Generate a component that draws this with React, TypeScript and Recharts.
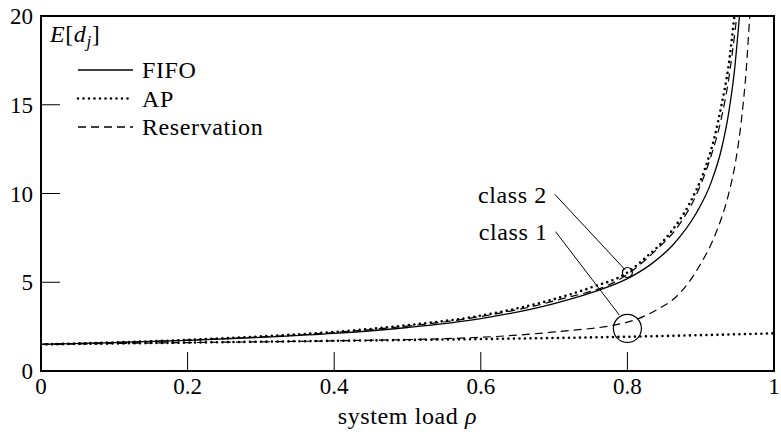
import React from "react";
import {
    LineChart,
    Line,
    XAxis,
    YAxis,
    Legend,
    ReferenceArea,
    ReferenceDot,
    ReferenceLine
} from "recharts";

const FONT = '"Liberation Serif", "Times New Roman", serif';

// axis ticks
const loadTicks = [0, 0.2, 0.4, 0.6, 0.8, 1];
const delayTicks = [0, 5, 10, 15, 20];

// FIFO: both classes share the same mean delay
const fifoRho = [0, 0.1, 0.2, 0.3, 0.4, 0.5, 0.6, 0.7, 0.75, 0.8, 0.83, 0.862, 0.894, 0.914, 0.928, 0.938, 0.946, 0.953, 0.958];
const fifoDelay = [1.5, 1.6, 1.72, 1.9, 2.12, 2.45, 2.95, 3.8, 4.4, 5.2, 5.95, 7.1, 8.9, 10.6, 12.45, 14.5, 16.9, 20.0, 22.0];

// AP, class 2 (top dotted) and class 1 (flat dotted)
const apHighRho = [0, 0.1, 0.2, 0.3, 0.4, 0.5, 0.6, 0.7, 0.75, 0.8, 0.821, 0.858, 0.885, 0.905, 0.919, 0.928, 0.938, 0.946, 0.95];
const apHighDelay = [1.5, 1.61, 1.75, 1.95, 2.2, 2.58, 3.12, 4.05, 4.7, 5.55, 6.25, 7.76, 9.45, 11.3, 13.2, 14.9, 17.2, 20.0, 21.5];
const apLowRho = [0, 0.2, 0.4, 0.6, 0.8, 1];
const apLowDelay = [1.5, 1.6, 1.7, 1.8, 1.93, 2.12];

// Reservation, class 2 and class 1 (dashed)
const resHighRho = [0, 0.2, 0.4, 0.5, 0.6, 0.7, 0.8, 0.84, 0.87, 0.898, 0.914, 0.928, 0.938, 0.947, 0.952];
const resHighDelay = [1.5, 1.74, 2.17, 2.53, 3.07, 3.95, 5.45, 6.85, 8.2, 10.3, 12.1, 14.2, 16.4, 19.2, 21.0];
const resLowRho = [0, 0.2, 0.4, 0.6, 0.7, 0.8, 0.84, 0.867, 0.898, 0.921, 0.937, 0.948, 0.956, 0.962, 0.967, 0.971];
const resLowDelay = [1.5, 1.6, 1.7, 1.9, 2.2, 2.75, 3.45, 4.2, 5.9, 7.8, 9.8, 11.9, 14.3, 16.9, 20.0, 22.0];

// class callouts: text anchor, leader line end, ring around the curves
const class2Callout = { text: "class 2", from: { x: 0.701, y: 9.95 }, to: { x: 0.797, y: 5.7 }, ring: { x: 0.8, y: 5.55, r: 5 } };
const class1Callout = { text: "class 1", from: { x: 0.702, y: 7.85 }, to: { x: 0.789, y: 3.15 }, ring: { x: 0.8, y: 2.4, r: 14 } };
const callouts = [class2Callout, class1Callout];

const legendItems = [
    { name: "FIFO", dash: undefined, width: 1.3, cap: "butt" },
    { name: "AP", dash: "0 5.5", width: 2.6, cap: "round" },
    { name: "Reservation", dash: "8 5", width: 1.3, cap: "butt" }
];

const toPoints = (rho: number[], delay: number[]) => rho.map((x, i) => ({ x, y: delay[i] }));

const series = [
    { key: "fifo", data: toPoints(fifoRho, fifoDelay), dash: undefined, width: 1.3, cap: "butt" },
    { key: "ap2", data: toPoints(apHighRho, apHighDelay), dash: "0 5.5", width: 2.6, cap: "round" },
    { key: "ap1", data: toPoints(apLowRho, apLowDelay), dash: "0 5.5", width: 2.6, cap: "round" },
    { key: "res2", data: toPoints(resHighRho, resHighDelay), dash: "8 5", width: 1.2, cap: "butt" },
    { key: "res1", data: toPoints(resLowRho, resLowDelay), dash: "8 5", width: 1.2, cap: "butt" }
];

function LegendBox() {
    return (
        <svg width={240} height={90}>
            {legendItems.map((item, i) => (
                <g key={item.name}>
                    <line
                        x1={7}
                        x2={62}
                        y1={15 + i * 28.5}
                        y2={15 + i * 28.5}
                        stroke="#000"
                        strokeWidth={item.width}
                        strokeDasharray={item.dash}
                        strokeLinecap={item.cap as any}
                    />
                    <text x={71} y={23 + i * 28.5} fontFamily={FONT} fontSize={24} letterSpacing={0.6} fill="#000">
                        {item.name}
                    </text>
                </g>
            ))}
        </svg>
    );
}

export default function App() {
    const tickStyle = { fill: "#000", fontSize: 23, fontFamily: FONT };
    const labelStyle = { fill: "#000", fontSize: 24, fontFamily: FONT, letterSpacing: 0.6 };

    return (
        <div style={{ position: "absolute", left: 0, top: 0, background: "#fff" }}>
            <LineChart width={781} height={435} margin={{ top: 16, right: 7, bottom: 0, left: 0 }}>
                <XAxis
                    type="number"
                    dataKey="x"
                    domain={[0, 1]}
                    ticks={loadTicks}
                    allowDataOverflow
                    axisLine={false}
                    tickSize={-19}
                    tickMargin={26}
                    tickLine={{ stroke: "#000", strokeWidth: 1 }}
                    tick={tickStyle}
                    tickFormatter={(v) => String(v)}
                    height={64}
                    label={{
                        content: ({ viewBox }: any) => (
                            <text
                                x={viewBox.x + viewBox.width / 2}
                                y={viewBox.y + 53}
                                textAnchor="middle"
                                {...labelStyle}
                            >
                                system load <tspan fontStyle="italic">ρ</tspan>
                            </text>
                        )
                    }}
                />
                <YAxis
                    type="number"
                    domain={[0, 20]}
                    ticks={delayTicks}
                    allowDataOverflow
                    axisLine={false}
                    width={41}
                    tickSize={-19}
                    tickMargin={27}
                    tickLine={{ stroke: "#000", strokeWidth: 1 }}
                    tick={tickStyle}
                />
                <Legend
                    layout="horizontal"
                    verticalAlign="middle"
                    align="center"
                    wrapperStyle={{ left: 71, top: 55, width: 240, height: 90 }}
                    content={() => <LegendBox />}
                />
                {series.map((s) => (
                    <Line
                        key={s.key}
                        data={s.data}
                        dataKey="y"
                        type="monotone"
                        stroke="#000"
                        strokeWidth={s.width}
                        strokeDasharray={s.dash}
                        strokeLinecap={s.cap as any}
                        dot={false}
                        activeDot={false}
                        isAnimationActive={false}
                    />
                ))}

                {callouts.map((c) => (
                    <ReferenceLine
                        key={c.text + "-line"}
                        segment={[c.from, c.to]}
                        stroke="#000"
                        strokeWidth={1}
                        ifOverflow="visible"
                    />
                ))}
                {callouts.map((c) => (
                    <ReferenceDot
                        key={c.text + "-ring"}
                        x={c.ring.x}
                        y={c.ring.y}
                        r={c.ring.r}
                        fill="none"
                        stroke="#000"
                        strokeWidth={1.2}
                        ifOverflow="visible"
                    />
                ))}
                {callouts.map((c) => (
                    <ReferenceDot
                        key={c.text + "-label"}
                        x={c.from.x}
                        y={c.from.y}
                        r={0.01}
                        fill="none"
                        stroke="none"
                        ifOverflow="visible"
                        label={{ value: c.text, position: "left", offset: 8, ...labelStyle }}
                    />
                ))}

                {/* y-axis caption inside the frame */}
                <ReferenceDot
                    x={0}
                    y={20}
                    r={0.01}
                    fill="none"
                    stroke="none"
                    ifOverflow="visible"
                    label={{
                        content: ({ viewBox }: any) => (
                            <text x={viewBox.x + 9} y={viewBox.y + 26} {...labelStyle}>
                                <tspan fontStyle="italic">E</tspan>[<tspan fontStyle="italic">d</tspan>
                                <tspan fontStyle="italic" fontSize={17} dy={5}>j</tspan>
                                <tspan dy={-5}>]</tspan>
                            </text>
                        )
                    }}
                />

                <ReferenceArea
                    x1={0}
                    x2={1}
                    y1={0}
                    y2={20}
                    fill="none"
                    fillOpacity={0}
                    stroke="#000"
                    strokeWidth={2}
                    ifOverflow="visible"
                />
            </LineChart>
        </div>
    );
}
